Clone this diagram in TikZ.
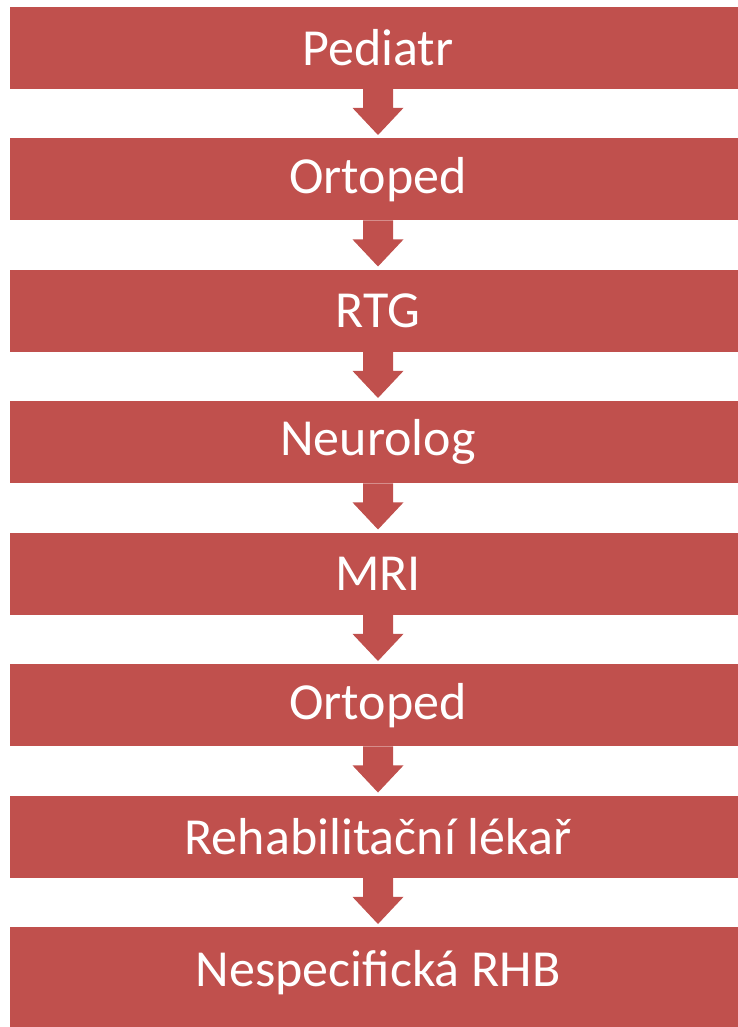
\documentclass[tikz,border=0pt]{standalone}
\usepackage{fontspec}
\setmainfont{Carlito}
\definecolor{boxred}{HTML}{C0504D}
\tikzset{
  stepbox/.style={fill=boxred, draw=none, minimum width=736pt, minimum height=82pt,
    inner sep=0pt, text=white, font=\fontsize{52}{62}\selectfont, anchor=north},
}
\newcommand\flowarrow[2]{%
  \fill[boxred] ([xshift=-15pt]#1.south) -- ([xshift=-15pt,yshift=-19pt]#1.south)
    -- ([xshift=-25.5pt,yshift=-19pt]#1.south) -- ([yshift=3pt]#2.north)
    -- ([xshift=25.5pt,yshift=-19pt]#1.south) -- ([xshift=15pt,yshift=-19pt]#1.south)
    -- ([xshift=15pt]#1.south) -- cycle;}
\begin{document}
\begin{tikzpicture}[x=1pt,y=-1pt]
\useasboundingbox (0,0) rectangle (738,1027);
\clip (0,0) rectangle (738,1027);
\node[stepbox] (b1) at (378,6.5) {Pediatr};
\node[stepbox] (b2) at (378,138) {Ortoped};
\node[stepbox] (b3) at (378,269.5) {RTG};
\node[stepbox] (b4) at (378,401) {Neurolog};
\node[stepbox] (b5) at (378,532.5) {MRI};
\node[stepbox] (b6) at (378,664) {Ortoped};
\node[stepbox] (b7) at (378,795.5) {Rehabilitační lékař};
\node[stepbox, minimum height=120pt, text depth=38pt] (b8) at (378,927) {Nespecifická RHB};
\flowarrow{b1}{b2}
\flowarrow{b2}{b3}
\flowarrow{b3}{b4}
\flowarrow{b4}{b5}
\flowarrow{b5}{b6}
\flowarrow{b6}{b7}
\flowarrow{b7}{b8}
\end{tikzpicture}
\end{document}
